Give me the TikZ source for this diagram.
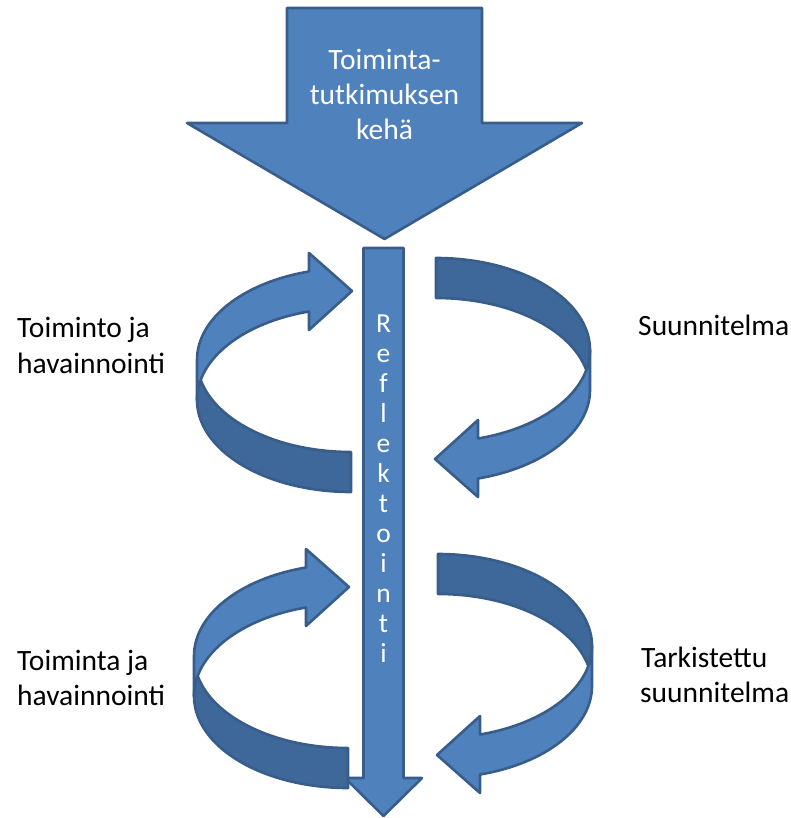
\documentclass[tikz,border=0pt]{standalone}
\usepackage{fontspec}
\setmainfont{Carlito}
\definecolor{arrowfill}{HTML}{4F81BD}
\definecolor{arrowline}{HTML}{385D8A}
\definecolor{bandback}{HTML}{3D6899}

\tikzset{
  frontband/.style={fill=arrowfill, draw=arrowline, line width=2.6pt, line join=round},
  backband/.style={fill=bandback, draw=arrowline, line width=2.6pt, line join=round},
  sidetext/.style={font=\fontsize{29.5}{35}\selectfont, anchor=base west, inner sep=0pt},
  headtext/.style={font=\fontsize{29.5}{35}\selectfont, text=white, anchor=base, inner sep=0pt},
  lettertext/.style={font=\fontsize{27.5}{30}\selectfont, text=white, anchor=base, inner sep=0pt},
  % ribbon arrow turning round a half ellipse; origin = centre of the upper ellipse
  pics/looparrow/.style={code={
    % back part (tail), ending behind the front part
    \path[backband] (0,92) arc[start angle=90, end angle=167.44, x radius=154, y radius=92]
      arc[start angle=192.56, end angle=90, x radius=154, y radius=92] -- cycle;
    % front part with the head
    \path[frontband] (-42,-48.5) -- (-42,-30) -- (1,-69) -- (-42,-107) -- (-42,-88.5)
      arc[start angle=-105.83, end angle=-180, x radius=154, y radius=92]
      -- (-154,40)
      arc[start angle=180, end angle=254.17, x radius=154, y radius=92] -- cycle;
  }}
}

\begin{document}
\begin{tikzpicture}[x=1pt, y=-1pt]
\useasboundingbox (0,0) rectangle (790,818);

% big arrow at the top
\path[frontband] (287,8) -- (482,8) -- (482,123) -- (582,123) -- (384.5,239)
  -- (187,123) -- (287,123) -- cycle;
\node[headtext] (h1) at (384.5,70) {Toiminta-};
\node[headtext] (h2) at (384.5,105) {tutkimuksen};
\node[headtext] (h3) at (384.5,140) {kehä};

% long downward arrow
\path[frontband] (363.5,248) -- (403.5,248) -- (403.5,778) -- (422,778) -- (383.5,816)
  -- (345,778) -- (363.5,778) -- cycle;
\foreach \c [count=\i] in {R,e,f,l,e,k,t,o,i,n,t,i}
  \node[lettertext] (r\i) at (383.5,302+30*\i) {\c};

% turning arrows
\pic at (351,360) {looparrow};
\pic at (348,656) {looparrow};
\pic[rotate=180] at (436,390) {looparrow};
\pic[rotate=180] at (438,686) {looparrow};

% labels
\node[sidetext] (a1) at (17,337) {Toiminto ja};
\node[sidetext] (a2) at (17,373) {havainnointi};
\node[sidetext] (b1) at (638,335) {Suunnitelma};
\node[sidetext] (c1) at (17,670) {Toiminta ja};
\node[sidetext] (c2) at (17,705) {havainnointi};
\node[sidetext] (d1) at (641,667) {Tarkistettu};
\node[sidetext] (d2) at (640,702) {suunnitelma};
\end{tikzpicture}
\end{document}
